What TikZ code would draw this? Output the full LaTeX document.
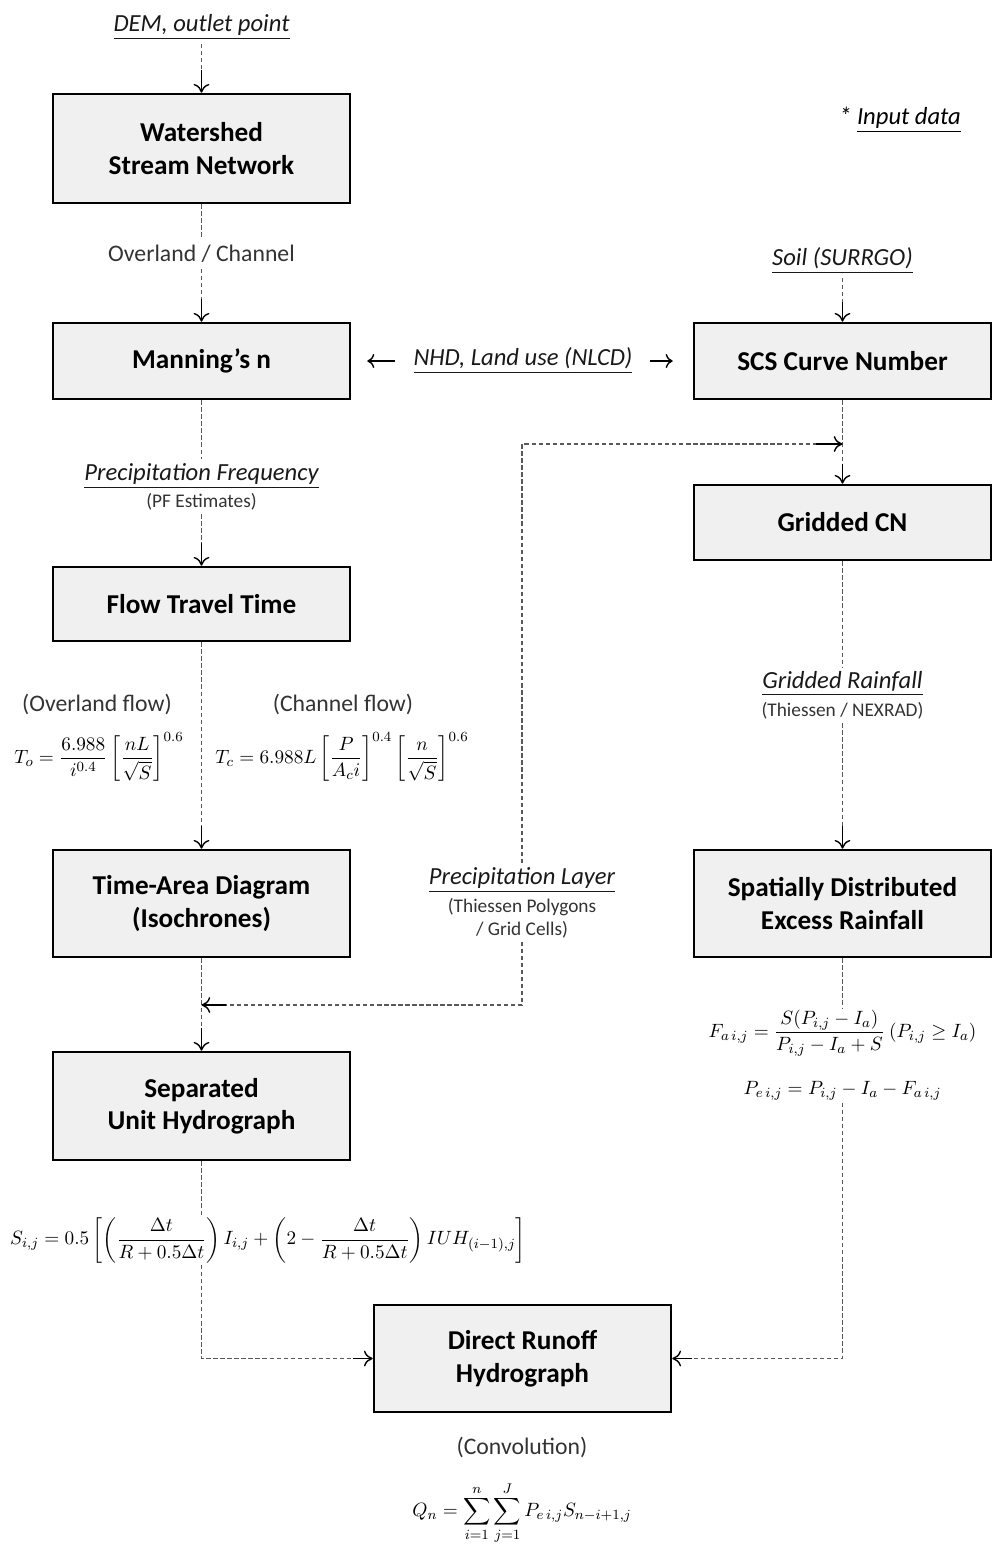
\documentclass[tikz,border=0pt]{standalone}
\usepackage{amsmath}
\usepackage{amssymb}
\usepackage{fontspec}
\setmainfont{Carlito}
\usetikzlibrary{shapes.geometric, arrows, arrows.meta}
\tikzstyle{box} = [rectangle, draw, line width=1.5pt, fill=black!6, text centered, align=center, minimum width=5.94cm, font=\fontsize{15.5}{18.5}\selectfont\bfseries]
\tikzstyle{inp} = [text=black!90, font=\fontsize{14}{16}\selectfont\itshape, inner sep=2pt]
\tikzstyle{lbl} = [text=black!80, font=\fontsize{13.5}{16}\selectfont, align=center]
\tikzstyle{sub} = [text=black!80, font=\fontsize{11}{13}\selectfont, align=center, inner sep=2pt]
\tikzstyle{eqn} = [text=black, font=\fontsize{10.8}{12.8}\selectfont, inner sep=1pt]
\tikzstyle{dashline} = [draw=black!65, line width=0.8pt, dash pattern=on 2.5pt off 1.5pt]
\tikzstyle{arrow} = [line width=0.8pt, -{To[length=5pt,width=9pt]}]

\begin{document}
\begin{tikzpicture}[x=0.02cm, y=-0.02cm]
  \useasboundingbox (0,0) rectangle (997,1552);

  % boxes
  \node (ws) [box, minimum height=2.18cm] at (201.5,148.5) {Watershed\\Stream Network};
  \node (man) [box, minimum height=1.52cm] at (201.5,361) {Manning’s n};
  \node (scs) [box, minimum height=1.52cm] at (842.5,361) {SCS Curve Number};
  \node (gcn) [box, minimum height=1.5cm] at (842.5,522.5) {Gridded CN};
  \node (ftt) [box, minimum height=1.48cm] at (201.5,604) {Flow Travel Time};
  \node (ta) [box, minimum height=2.14cm] at (201.5,903.5) {Time-Area Diagram\\(Isochrones)};
  \node (sdr) [box, minimum height=2.14cm] at (842.5,903.5) {Spatially Distributed\\Excess Rainfall};
  \node (suh) [box, minimum height=2.16cm] at (201.5,1106) {Separated\\Unit Hydrograph};
  \node (dro) [box, minimum height=2.14cm] at (522.5,1358.5) {Direct Runoff\\Hydrograph};

  % input data and labels
  \node (dem) [inp] at (201.5,27) {\underline{DEM, outlet point}};
  \node (note) [inp, text=black] at (900,120) {* \underline{Input data}};
  \node (ovch) [lbl] at (201.5,254) {Overland / Channel};
  \node (soil) [inp] at (842.5,261) {\underline{Soil (SURRGO)}};
  \node (nhd) [inp] at (523,361) {\underline{NHD, Land use (NLCD)}};
  \node (pf) [inp] at (201.5,476) {\underline{Precipitation Frequency}};
  \node (pfe) [sub] at (201.5,502) {(PF Estimates)};
  \node (gr) [inp] at (842.5,684) {\underline{Gridded Rainfall}};
  \node (grs) [sub] at (842.5,711) {(Thiessen / NEXRAD)};
  \node (olf) [lbl] at (97,704) {(Overland flow)};
  \node (chf) [lbl] at (343,704) {(Channel flow)};
  \node (pl) [inp] at (522,880) {\underline{Precipitation Layer}};
  \node (pls) [sub] at (522,918) {(Thiessen Polygons\\/ Grid Cells)};
  \node (conv) [lbl] at (522,1447) {(Convolution)};

  % equations
  \node (tof) [eqn] at (99,757) {$\displaystyle T_o=\frac{6.988}{i^{0.4}}\left[\frac{nL}{\sqrt{S}}\right]^{0.6}$};
  \node (tcf) [eqn] at (342,757) {$\displaystyle T_c=6.988L\left[\frac{P}{A_c i}\right]^{0.4}\left[\frac{n}{\sqrt{S}}\right]^{0.6}$};
  \node (sfor) [eqn] at (268,1240) {$\displaystyle S_{i,j}=0.5\left[\left(\frac{\Delta t}{R+0.5\Delta t}\right)I_{i,j}+\left(2-\frac{\Delta t}{R+0.5\Delta t}\right)IUH_{(i-1),j}\right]$};
  \node (ffor) [eqn] at (842.5,1033) {$\displaystyle F_{a\,i,j}=\frac{S(P_{i,j}-I_a)}{P_{i,j}-I_a+S}\ (P_{i,j}\geq I_a)$};
  \node (pfor) [eqn] at (842.5,1091) {$\displaystyle P_{e\,i,j}=P_{i,j}-I_a-F_{a\,i,j}$};
  \node (qfor) [eqn] at (522,1513) {$\displaystyle Q_n=\sum_{i=1}^{n}\sum_{j=1}^{J}P_{e\,i,j}S_{n-i+1,j}$};

  \coordinate (j1) at (842.5,444);
  \coordinate (j2) at (201.5,1005);

  % left column
  \draw [dashline] (dem.south) -- ([yshift=0.45cm]ws.north);
  \draw [arrow] ([yshift=0.45cm]ws.north) -- (ws.north);
  \draw [dashline] (ws.south) -- (ovch.north);
  \draw [dashline] (ovch.south) -- ([yshift=0.45cm]man.north);
  \draw [arrow] ([yshift=0.45cm]man.north) -- (man.north);
  \draw [dashline] (man.south) -- (pf.north);
  \draw [dashline] (pfe.south) -- ([yshift=0.45cm]ftt.north);
  \draw [arrow] ([yshift=0.45cm]ftt.north) -- (ftt.north);
  \draw [dashline] (ftt.south) -- ([yshift=0.45cm]ta.north);
  \draw [arrow] ([yshift=0.45cm]ta.north) -- (ta.north);
  \draw [dashline] (ta.south) -- ([yshift=0.45cm]suh.north);
  \draw [arrow] ([yshift=0.45cm]suh.north) -- (suh.north);
  \draw [dashline] (suh.south) -- (suh.south |- sfor.north);
  \draw [dashline] (suh.south |- sfor.south) |- ([xshift=-0.4cm]dro.west);
  \draw [arrow] ([xshift=-0.4cm]dro.west) -- (dro.west);

  % land use to both sides
  \draw [line width=0.8pt, -{To[length=4pt,width=8pt]}] ([xshift=-0.3cm]nhd.west) -- ([xshift=0.32cm]man.east);
  \draw [line width=0.8pt, -{To[length=4pt,width=8pt]}] ([xshift=0.28cm]nhd.east) -- ([xshift=-0.4cm]scs.west);

  % right column
  \draw [dashline] (soil.south) -- ([yshift=0.4cm]scs.north);
  \draw [arrow] ([yshift=0.4cm]scs.north) -- (scs.north);
  \draw [dashline] (scs.south) -- ([yshift=0.4cm]gcn.north);
  \draw [arrow] ([yshift=0.4cm]gcn.north) -- (gcn.north);
  \draw [dashline] (gcn.south) -- (gr.north);
  \draw [dashline] (grs.south) -- ([yshift=0.45cm]sdr.north);
  \draw [arrow] ([yshift=0.45cm]sdr.north) -- (sdr.north);
  \draw [dashline] (sdr.south) -- (ffor.north);
  \draw [dashline] (pfor.south) |- ([xshift=0.4cm]dro.east);
  \draw [arrow] ([xshift=0.4cm]dro.east) -- (dro.east);

  % precipitation layer
  \draw [dashline] (pl.north) |- ([xshift=-0.54cm]j1);
  \draw [arrow] ([xshift=-0.54cm]j1) -- (j1);
  \draw [dashline] (pls.south) |- ([xshift=0.5cm]j2);
  \draw [arrow] ([xshift=0.5cm]j2) -- (j2);
\end{tikzpicture}
\end{document}
